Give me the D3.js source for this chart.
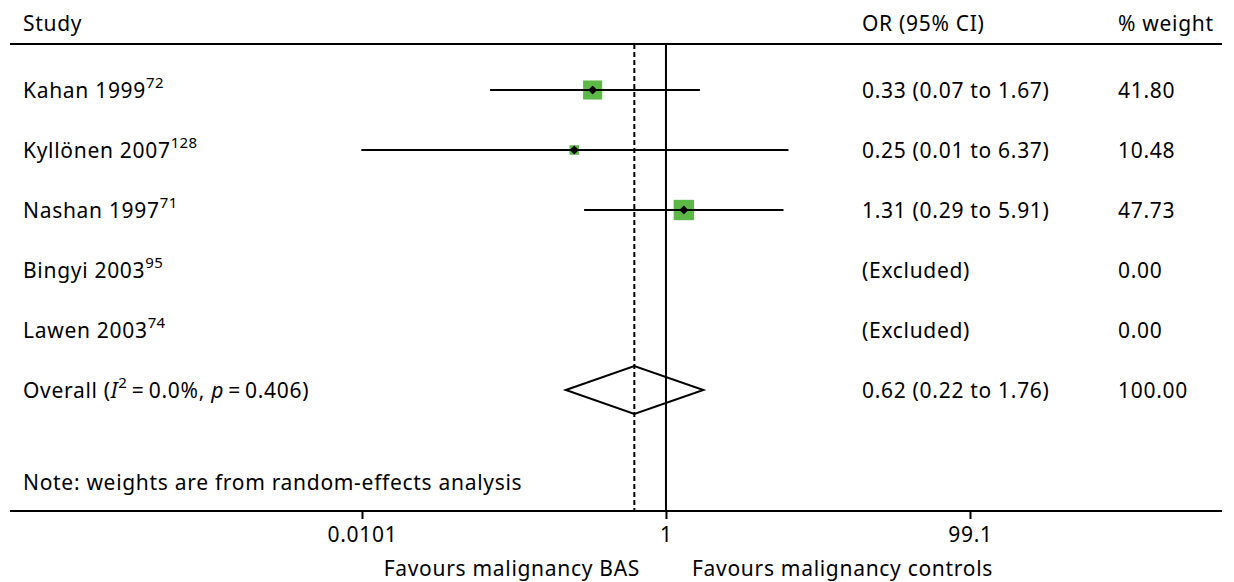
<!DOCTYPE html>
<html>
<head>
<meta charset="utf-8">
<script src="https://cdn.jsdelivr.net/npm/d3@7"></script>
<style>
	body { margin: 0; background: #fff; }
	text { font-family: "Noto Sans", "Open Sans", sans-serif; font-size: 21px; letter-spacing: 0.7px; fill: #000; }
</style>
</head>
<body>
<div id="forest"></div>
<script>
const size = { w: 1234, h: 582 };

// data
const studies = ["Kahan 1999", "Kyllönen 2007", "Nashan 1997", "Bingyi 2003", "Lawen 2003"];
const refs = ["72", "128", "71", "95", "74"];
const oddsRatio = [0.33, 0.25, 1.31, null, null];
const ciLow = [0.07, 0.01, 0.29, null, null];
const ciHigh = [1.67, 6.37, 5.91, null, null];
const ciText = ["0.33 (0.07 to 1.67)", "0.25 (0.01 to 6.37)", "1.31 (0.29 to 5.91)", "(Excluded)", "(Excluded)"];
const weights = [41.8, 10.48, 47.73, 0, 0];
const overall = { or: 0.62, lo: 0.22, hi: 1.76, text: "0.62 (0.22 to 1.76)", weight: "100.00" };
const tickValues = [0.0101, 1, 99.1];
const tickLabels = ["0.0101", "1", "99.1"];

const svg = d3
	.select("#forest")
	.append("svg")
	.attr("width", size.w)
	.attr("height", size.h);

const x = d3.scaleLog().domain([0.0101, 99.1]).range([362, 970]);
const rowY = d3.scaleLinear().domain([0, 1]).range([90, 150]);
const boxSide = d3.scaleSqrt().domain([0, 100]).range([0, 29.5]);

const topY = 44;
const axisY = 511;

// header
svg.append("text").attr("x", 23).attr("y", 31).text("Study");
svg.append("text").attr("x", 862).attr("y", 31).text("OR (95% CI)");
svg.append("text").attr("x", 1118).attr("y", 31).text("% weight");
svg.append("line")
	.attr("x1", 10).attr("x2", 1222)
	.attr("y1", topY).attr("y2", topY)
	.attr("stroke", "#000").attr("stroke-width", 2);

// reference lines
svg.append("line")
	.attr("x1", x(1)).attr("x2", x(1))
	.attr("y1", topY).attr("y2", axisY)
	.attr("stroke", "#000").attr("stroke-width", 2);
svg.append("line")
	.attr("x1", x(overall.or)).attr("x2", x(overall.or))
	.attr("y1", topY).attr("y2", axisY)
	.attr("stroke", "#000").attr("stroke-width", 2)
	.attr("stroke-dasharray", "5,3");

// study rows
const rows = svg.selectAll(".row")
	.data(studies.map((s, i) => ({
		name: s, ref: refs[i], or: oddsRatio[i], lo: ciLow[i], hi: ciHigh[i],
		ci: ciText[i], w: weights[i], i: i,
	})))
	.join("g")
	.classed("row", true)
	.attr("transform", (d) => `translate(0, ${rowY(d.i)})`);

const label = rows.append("text").attr("x", 23).attr("y", 8);
label.append("tspan").text((d) => d.name);
label.append("tspan").attr("dy", -10).style("font-size", "15px").style("letter-spacing", "0.3px").text((d) => d.ref);

rows.append("text").attr("x", 862).attr("y", 8).text((d) => d.ci);
rows.append("text").attr("x", 1118).attr("y", 8).text((d) => d.w.toFixed(2));

const est = rows.filter((d) => d.or !== null);
est.append("rect")
	.attr("x", (d) => x(d.or) - boxSide(d.w) / 2)
	.attr("y", (d) => -boxSide(d.w) / 2)
	.attr("width", (d) => boxSide(d.w))
	.attr("height", (d) => boxSide(d.w))
	.attr("fill", "#5db946");
est.append("line")
	.attr("x1", (d) => x(d.lo)).attr("x2", (d) => x(d.hi))
	.attr("y1", 0).attr("y2", 0)
	.attr("stroke", "#000").attr("stroke-width", 2);
est.append("path")
	.attr("d", (d) => `M${x(d.or) - 4.5},0 L${x(d.or)},-4.5 L${x(d.or) + 4.5},0 L${x(d.or)},4.5 Z`)
	.attr("fill", "#000");

// overall
const oy = rowY(5);
svg.append("path")
	.attr("d", `M${x(overall.lo)},${oy} L${x(overall.or)},${oy - 24} L${x(overall.hi)},${oy} L${x(overall.or)},${oy + 24} Z`)
	.attr("fill", "none").attr("stroke", "#000").attr("stroke-width", 2);
const ol = svg.append("text").attr("x", 23).attr("y", oy + 8);
ol.append("tspan").text("Overall (");
ol.append("tspan").style("font-style", "italic").text("I");
ol.append("tspan").attr("dy", -10).style("font-size", "15px").text("2");
ol.append("tspan").attr("dy", 10).text("\u2009=\u20090.0%, ");
ol.append("tspan").style("font-style", "italic").text("p");
ol.append("tspan").text("\u2009=\u20090.406)");
svg.append("text").attr("x", 862).attr("y", oy + 8).text(overall.text);
svg.append("text").attr("x", 1118).attr("y", oy + 8).text(overall.weight);

svg.append("text").attr("x", 23).attr("y", 490).text("Note: weights are from random-effects analysis");

// axis
svg.append("line")
	.attr("x1", 10).attr("x2", 1222)
	.attr("y1", axisY).attr("y2", axisY)
	.attr("stroke", "#000").attr("stroke-width", 2);
const axisG = svg.append("g")
	.attr("transform", `translate(0, ${axisY})`)
	.call(d3.axisBottom(x).tickValues(tickValues).tickFormat((d, i) => tickLabels[i]).tickSize(8).tickPadding(8));
axisG.select(".domain").remove();
axisG.selectAll("line").attr("stroke-width", 2);
axisG.selectAll("text").style("font-size", "21px").attr("font-family", null);

svg.append("text").attr("x", 640).attr("y", 576).attr("text-anchor", "end").text("Favours malignancy BAS");
svg.append("text").attr("x", 692).attr("y", 576).text("Favours malignancy controls");
</script>
</body>
</html>
